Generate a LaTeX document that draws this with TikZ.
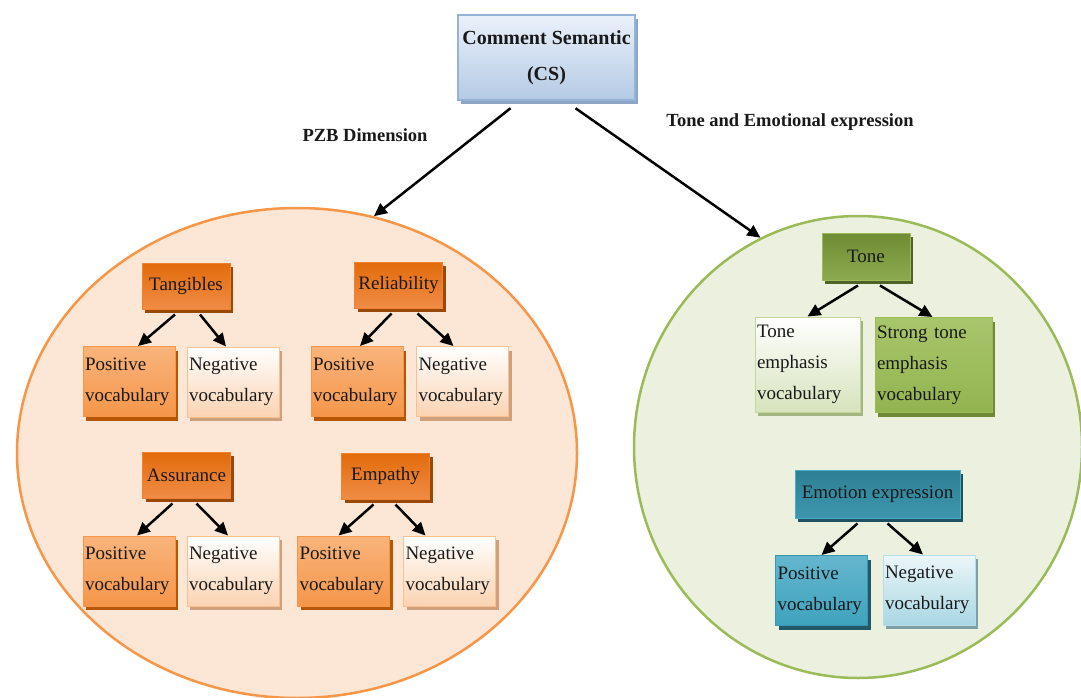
\documentclass[tikz,border=0pt]{standalone}
\usepackage{fontspec}
\setmainfont{Liberation Serif}
\usetikzlibrary{shapes.geometric,shadows,arrows.meta}
\definecolor{OrE}{HTML}{F79646}
\definecolor{OrF}{HTML}{FCE6D6}
\definecolor{GrE}{HTML}{9BBB59}
\definecolor{GrF}{HTML}{EBF1DE}
\definecolor{ohT}{HTML}{E26B0A}
\definecolor{ohB}{HTML}{F08C46}
\definecolor{ohD}{HTML}{F08232}
\definecolor{ohS}{HTML}{984807}
\definecolor{opT}{HTML}{F9B47C}
\definecolor{opB}{HTML}{F5964A}
\definecolor{opS}{HTML}{B65708}
\definecolor{onB}{HTML}{FBD3B2}
\definecolor{onD}{HTML}{FAC090}
\definecolor{onS}{HTML}{CFA07E}
\definecolor{ghT}{HTML}{6F8C34}
\definecolor{ghB}{HTML}{8CAA50}
\definecolor{ghS}{HTML}{4F6228}
\definecolor{gnB}{HTML}{D6E3BC}
\definecolor{gnD}{HTML}{C3D69B}
\definecolor{gnS}{HTML}{A3B681}
\definecolor{gpT}{HTML}{A8C66A}
\definecolor{gpB}{HTML}{93B350}
\definecolor{gpS}{HTML}{6E8A36}
\definecolor{thT}{HTML}{2E7F94}
\definecolor{thB}{HTML}{3D97AE}
\definecolor{thD}{HTML}{4BACC6}
\definecolor{thS}{HTML}{1F5260}
\definecolor{tpT}{HTML}{64B6CD}
\definecolor{tpB}{HTML}{3FA3BE}
\definecolor{tpD}{HTML}{3C96AF}
\definecolor{tpS}{HTML}{215968}
\definecolor{tnT}{HTML}{ECF6F9}
\definecolor{tnB}{HTML}{A9D7E3}
\definecolor{tnD}{HTML}{B7DEE8}
\definecolor{tnS}{HTML}{7D9FA8}
\definecolor{csT}{HTML}{EAF1FA}
\definecolor{csB}{HTML}{B4CAE4}
\definecolor{csD}{HTML}{95B3D7}
\definecolor{csS}{HTML}{8EA6C6}
\begin{document}
\begin{tikzpicture}[x=1pt,y=-1pt,
  bx/.style={rectangle, inner sep=2pt, text=black!90, font=\fontsize{19}{31}\selectfont, line width=1pt},
  sh/.style={general shadow={fill=#1, shadow xshift=3pt, shadow yshift=-4pt}},
  hdrsz/.style={minimum width=88pt, minimum height=46pt, align=center},
  kid/.style={text width=88pt, minimum height=70pt, align=left},
  ohdr/.style={bx, hdrsz, top color=ohT, bottom color=ohB, draw=ohD, sh=ohS},
  opos/.style={bx, kid, top color=opT, bottom color=opB, draw=OrE, sh=opS},
  oneg/.style={bx, kid, top color=white, bottom color=onB, draw=onD, sh=onS},
  ghdr/.style={bx, hdrsz, top color=ghT, bottom color=ghB, draw=GrE, sh=ghS},
  gneg/.style={bx, align=left, minimum height=95pt, top color=white, bottom color=gnB, draw=gnD, sh=gnS},
  gpos/.style={bx, align=left, minimum height=95pt, top color=gpT, bottom color=gpB, draw=GrE, sh=gpS},
  thdr/.style={bx, align=center, minimum width=165pt, minimum height=48pt, top color=thT, bottom color=thB, draw=thD, sh=thS},
  tpos/.style={bx, kid, top color=tpT, bottom color=tpB, draw=tpD, sh=tpS},
  tneg/.style={bx, kid, top color=tnT, bottom color=tnB, draw=tnD, sh=tnS},
  arr/.style={-{Triangle[length=13pt,width=12pt]}, line width=2.5pt, black},
  lbl/.style={font=\bfseries\fontsize{18.5}{20}\selectfont, text=black!90, inner sep=0pt}
]
\useasboundingbox (0,0) rectangle (1081,698);
\clip (0,0) rectangle (1081,698);
\fill[white] (0,0) rectangle (1081,698);

% ellipses
\node[ellipse, draw=OrE, fill=OrF, line width=2.5pt, minimum width=560pt, minimum height=490pt, inner sep=0pt] (pzb) at (297,453) {};
\node[ellipse, draw=GrE, fill=GrF, line width=2.5pt, minimum width=448pt, minimum height=462pt, inner sep=0pt] (tea) at (858,447) {};

% title
\node[bx, align=center, minimum width=177pt, minimum height=85pt, line width=2.5pt, top color=csT, bottom color=csB, draw=csD, sh=csS, font=\bfseries\fontsize{20}{36}\selectfont] (cs) at (546.5,57.5) {Comment Semantic\\(CS)};

% labels
\node[lbl] (pzbl) at (365,135) {PZB Dimension};
\node[lbl] (tonel) at (790,122) {Tone and Emotional expression};

% PZB boxes
\node[ohdr] (tang) at (186,286) {Tangibles};
\node[opos] (tpos) at (129,381.5) {Positive\\vocabulary};
\node[oneg] (tneg) at (233,382) {Negative\\vocabulary};

\node[ohdr] (rel) at (398.5,285) {Reliability};
\node[opos] (rpos) at (357,381.5) {Positive\\vocabulary};
\node[oneg] (rneg) at (462.5,381.5) {Negative\\vocabulary};

\node[ohdr] (ass) at (186.5,475) {Assurance};
\node[opos] (apos) at (129,571) {Positive\\vocabulary};
\node[oneg] (aneg) at (233,571) {Negative\\vocabulary};

\node[ohdr] (emp) at (385.5,476) {Empathy};
\node[opos] (epos) at (343.5,571) {Positive\\vocabulary};
\node[oneg] (eneg) at (449.5,571) {Negative\\vocabulary};

% Tone boxes
\node[ghdr, minimum height=47pt] (tone) at (866,256.5) {Tone};
\node[gneg, text width=101pt] (temph) at (807.5,364.5) {Tone\\emphasis\\vocabulary};
\node[gpos, text width=113pt] (stemph) at (933.5,365) {Strong tone\\emphasis\\vocabulary};

\node[thdr] (emo) at (877.5,494) {Emotion expression};
\node[tpos] (mpos) at (821.5,590.5) {Positive\\vocabulary};
\node[tneg] (mneg) at (929,590) {Negative\\vocabulary};

% arrows
\draw[arr] ([xshift=-36pt,yshift=-7pt]cs.south) -- (pzb.72);
\draw[arr] ([xshift=29pt,yshift=-7pt]cs.south) -- (tea.115);

\draw[arr] ([xshift=-11pt,yshift=-5pt]tang.south) -- ([xshift=9pt]tpos.north);
\draw[arr] ([xshift=14pt,yshift=-5pt]tang.south) -- ([xshift=-7pt]tneg.north);
\draw[arr] ([xshift=-7pt,yshift=-5pt]rel.south) -- ([xshift=3pt]rpos.north);
\draw[arr] ([xshift=19pt,yshift=-5pt]rel.south) -- ([xshift=-9pt]rneg.north);
\draw[arr] ([xshift=-14pt,yshift=-5pt]ass.south) -- ([xshift=8pt]apos.north);
\draw[arr] ([xshift=10pt,yshift=-5pt]ass.south) -- ([xshift=-5pt]aneg.north);
\draw[arr] ([xshift=-12pt,yshift=-5pt]emp.south) -- ([xshift=-5pt]epos.north);
\draw[arr] ([xshift=10pt,yshift=-5pt]emp.south) -- ([xshift=-24pt]eneg.north);
\draw[arr] ([xshift=-8pt,yshift=-5pt]tone.south) -- (temph.north);
\draw[arr] ([xshift=14pt,yshift=-5pt]tone.south) -- ([xshift=-1pt]stemph.north);
\draw[arr] ([xshift=-20pt,yshift=-5pt]emo.south) -- (mpos.north);
\draw[arr] ([xshift=10pt,yshift=-5pt]emo.south) -- ([xshift=-6pt]mneg.north);
\end{tikzpicture}
\end{document}
